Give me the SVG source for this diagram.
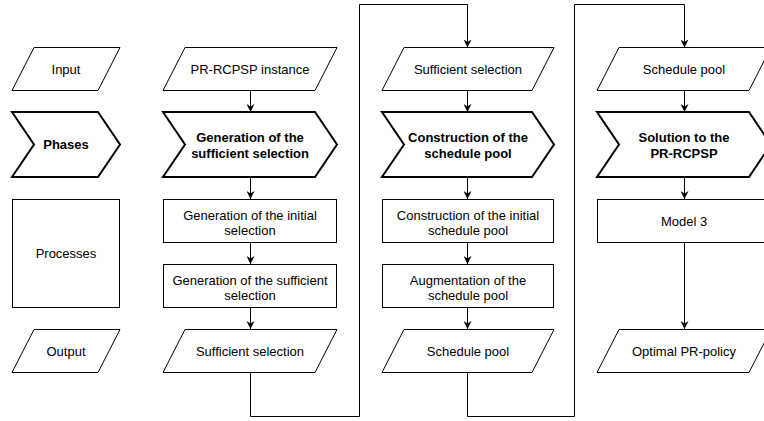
<svg xmlns="http://www.w3.org/2000/svg" width="764" height="421" viewBox="0 0 764 421">
  <defs>
    <marker id="arrow" viewBox="0 0 10 10" refX="10" refY="5" markerWidth="8" markerHeight="8" markerUnits="userSpaceOnUse" orient="auto">
      <path d="M0,0 L10,5 L0,10 L3,5 Z" fill="#000"/>
    </marker>
    <style>
      .io { fill: #fff; stroke: #000; stroke-width: 1; }
      .box { fill: #fff; stroke: #000; stroke-width: 1; }
      .phase { fill: #fff; stroke: #000; stroke-width: 2; stroke-linejoin: miter; }
      .edge { fill: none; stroke: #000; stroke-width: 1; marker-end: url(#arrow); }
      .wire { fill: none; stroke: #000; stroke-width: 1; }
      text { font-family: "Liberation Sans", Arial, Helvetica, sans-serif; font-size: 13px; fill: #000; text-anchor: middle; }
      .bold { font-weight: bold; }
    </style>
  </defs>
  <rect width="764" height="421" fill="#fff"/>

  <!-- legend column -->
  <g id="legend-input">
    <polygon class="io" points="34,47.5 120,47.5 98,90.5 12,90.5"/>
    <text x="66" y="73.5">Input</text>
  </g>
  <g id="legend-phases">
    <polygon class="phase" points="12,112 98,112 120,144.5 98,177 12,177 34,144.5"/>
    <text class="bold" x="66" y="149">Phases</text>
  </g>
  <g id="legend-processes">
    <rect class="box" x="12.5" y="199.5" width="107" height="108"/>
    <text x="66" y="258">Processes</text>
  </g>
  <g id="legend-output">
    <polygon class="io" points="34,329.5 120,329.5 98,372.5 12,372.5"/>
    <text x="66" y="355.5">Output</text>
  </g>

  <!-- phase 1: generation of the sufficient selection -->
  <g id="p1-input">
    <polygon class="io" points="185,47.5 337,47.5 315,90.5 163,90.5"/>
    <text x="250" y="73.5">PR-RCPSP instance</text>
  </g>
  <g id="p1-phase">
    <polygon class="phase" points="163,112 315,112 337,144.5 315,177 163,177 185,144.5"/>
    <text class="bold" x="250" y="141.5">Generation of the</text>
    <text class="bold" x="250" y="157.5">sufficient selection</text>
  </g>
  <g id="p1-step1">
    <rect class="box" x="163.5" y="199.5" width="173" height="43"/>
    <text x="250" y="219.5">Generation of the initial</text>
    <text x="250" y="235">selection</text>
  </g>
  <g id="p1-step2">
    <rect class="box" x="163.5" y="264.5" width="173" height="43"/>
    <text x="250" y="284.5">Generation of the sufficient</text>
    <text x="250" y="300">selection</text>
  </g>
  <g id="p1-output">
    <polygon class="io" points="185,329.5 337,329.5 315,372.5 163,372.5"/>
    <text x="250" y="355.5">Sufficient selection</text>
  </g>

  <!-- phase 2: construction of the schedule pool -->
  <g id="p2-input">
    <polygon class="io" points="404,47.5 554,47.5 532,90.5 382,90.5"/>
    <text x="468" y="73.5">Sufficient selection</text>
  </g>
  <g id="p2-phase">
    <polygon class="phase" points="382,112 532,112 554,144.5 532,177 382,177 404,144.5"/>
    <text class="bold" x="468" y="141.5">Construction of the</text>
    <text class="bold" x="468" y="157.5">schedule pool</text>
  </g>
  <g id="p2-step1">
    <rect class="box" x="382.5" y="199.5" width="171" height="43"/>
    <text x="468" y="219.5">Construction of the initial</text>
    <text x="468" y="235">schedule pool</text>
  </g>
  <g id="p2-step2">
    <rect class="box" x="382.5" y="264.5" width="171" height="43"/>
    <text x="468" y="284.5">Augmentation of the</text>
    <text x="468" y="300">schedule pool</text>
  </g>
  <g id="p2-output">
    <polygon class="io" points="404,329.5 554,329.5 532,372.5 382,372.5"/>
    <text x="468" y="355.5">Schedule pool</text>
  </g>

  <!-- phase 3: solution to the PR-RCPSP -->
  <g id="p3-input">
    <polygon class="io" points="619,47.5 771,47.5 749,90.5 597,90.5"/>
    <text x="684" y="73.5">Schedule pool</text>
  </g>
  <g id="p3-phase">
    <polygon class="phase" points="597,112 749,112 771,144.5 749,177 597,177 619,144.5"/>
    <text class="bold" x="684" y="141.5">Solution to the</text>
    <text class="bold" x="684" y="157.5">PR-RCPSP</text>
  </g>
  <g id="p3-step1">
    <rect class="box" x="597.5" y="199.5" width="173" height="43"/>
    <text x="684" y="226">Model 3</text>
  </g>
  <g id="p3-output">
    <polygon class="io" points="619,329.5 771,329.5 749,372.5 597,372.5"/>
    <text x="684" y="355.5">Optimal PR-policy</text>
  </g>

  <!-- connectors -->
  <g id="connectors">
    <path class="edge" d="M250.5,90.5 V112"/>
    <path class="edge" d="M250.5,177 V199"/>
    <path class="edge" d="M250.5,243 V264"/>
    <path class="edge" d="M250.5,308 V329"/>
    <path class="edge" d="M250.5,373 V416.5 H359.5 V4.5 H467.5 V47.5"/>

    <path class="edge" d="M467.5,90.5 V112"/>
    <path class="edge" d="M467.5,177 V199"/>
    <path class="edge" d="M467.5,243 V264"/>
    <path class="edge" d="M467.5,308 V329"/>
    <path class="edge" d="M467.5,373 V416.5 H574.5 V4.5 H684.5 V47.5"/>

    <path class="edge" d="M684.5,90.5 V112"/>
    <path class="edge" d="M684.5,177 V199"/>
    <path class="edge" d="M684.5,243 V329"/>
  </g>
</svg>
